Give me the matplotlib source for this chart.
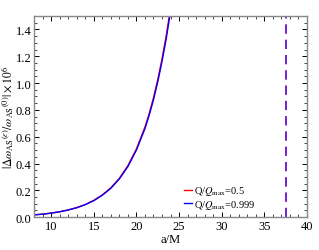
import matplotlib.pyplot as plt
from matplotlib.ticker import MultipleLocator

plt.rcParams['font.family'] = ['Liberation Serif', 'DejaVu Serif']
plt.rcParams['mathtext.fontset'] = 'stix'

# values
a_vals = [8, 9, 10, 11, 12, 13, 14, 15, 16, 17, 18, 19, 20, 21, 21.5, 22, 22.5, 23, 23.5, 24, 24.5]
r_half = [0.017, 0.022, 0.030, 0.040, 0.054, 0.071, 0.094, 0.125, 0.166, 0.219, 0.290, 0.384, 0.509, 0.672, 0.773, 0.890, 1.025, 1.180, 1.355, 1.560, 1.790]
r_max = [0.017, 0.022, 0.030, 0.040, 0.053, 0.070, 0.093, 0.123, 0.163, 0.215, 0.285, 0.377, 0.500, 0.660, 0.760, 0.875, 1.008, 1.160, 1.332, 1.533, 1.760]
a_isco = 37.55

fig, ax = plt.subplots(figsize=(3.19, 2.51), dpi=100)
fig.subplots_adjust(left=0.107, right=0.962, top=0.932, bottom=0.131)

ax.plot(a_vals, r_half, color='red', lw=1.0, label=r'Q/$Q_{\rm max}$=0.5')
ax.plot(a_vals, r_max, color='blue', lw=1.0, label=r'Q/$Q_{\rm max}$=0.999')
ax.axvline(a_isco, color='red', lw=1.1, ls=(0, (6, 4)))
ax.axvline(a_isco, color='#4a22ff', lw=1.1, ls=(0, (6, 4)))

ax.set_xlim(8, 40)
ax.set_ylim(0, 1.5)
ax.xaxis.set_major_locator(MultipleLocator(5))
ax.xaxis.set_minor_locator(MultipleLocator(1))
ax.yaxis.set_major_locator(MultipleLocator(0.2))
ax.yaxis.set_minor_locator(MultipleLocator(0.05))
ax.tick_params(which='both', direction='in', top=True, right=True, labelsize=9, pad=2)
ax.tick_params(which='major', length=3.5, width=0.7)
ax.tick_params(which='minor', length=2, width=0.5)
for s in ax.spines.values():
    s.set_color('#888888')
    s.set_linewidth(1.0)

ax.set_xlabel('a/M', fontsize=9, labelpad=1)
ax.set_ylabel(r'$|\Delta\omega_{\rm AS}{}^{(\varepsilon)}/\omega_{\rm AS}{}^{(0)}|\times10^6$',
              fontsize=8.5)
ax.yaxis.set_label_coords(-0.066, 0.5)

ax.legend(loc='lower right', frameon=False, fontsize=7.5, handlelength=0.8,
          handletextpad=0.2, labelspacing=0.05, borderaxespad=0.2,
          bbox_to_anchor=(0.835, 0.0))

fig.savefig('out.png', dpi=100)
